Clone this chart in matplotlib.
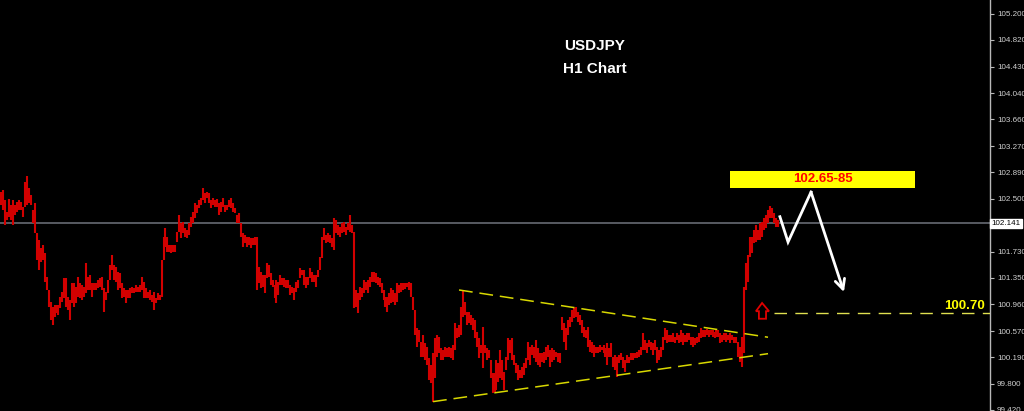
import matplotlib
matplotlib.use('Agg')
import matplotlib.pyplot as plt
import matplotlib.transforms as mtransforms
from matplotlib.patches import Rectangle, Polygon
import numpy as np

# ---------------- data (USDJPY H1 bars: high / low) ----------------
highs = [
    102.60, 102.63, 102.48, 102.31, 102.50, 102.41, 102.48, 102.41, 102.46, 102.48,
    102.46, 102.38, 102.75, 102.83, 102.66, 102.56, 102.34, 102.44, 102.00, 101.90,
    101.78, 101.83, 101.71, 101.36, 101.17, 100.99, 100.92, 100.95, 100.95, 100.95,
    101.07, 101.14, 101.35, 101.35, 101.07, 101.02, 101.27, 101.27, 101.21, 101.36,
    101.27, 101.24, 101.21, 101.56, 101.36, 101.39, 101.27, 101.27, 101.27, 101.32,
    101.35, 101.36, 101.20, 101.14, 101.32, 101.53, 101.68, 101.53, 101.51, 101.43,
    101.42, 101.27, 101.20, 101.17,
    101.17, 101.20, 101.21, 101.20, 101.24, 101.21,
    101.24, 101.36, 101.29, 101.20, 101.14, 101.17, 101.10, 101.14, 101.05, 101.13,
    101.10, 101.61, 101.94, 102.08, 101.94, 101.83, 101.83, 101.83, 101.83, 102.02,
    102.27, 102.15, 102.16, 102.08, 102.05, 102.15, 102.24, 102.31, 102.44, 102.41,
    102.48, 102.51, 102.66, 102.59, 102.60, 102.59, 102.48, 102.51, 102.48, 102.50,
    102.44, 102.46, 102.51, 102.41, 102.41, 102.48, 102.51, 102.44, 102.37, 102.27,
    102.29, 102.15, 102.00, 101.97, 101.94, 101.94, 101.93, 101.93, 101.94, 101.94,
    101.51, 101.43, 101.39, 101.39, 101.56, 101.53, 101.42, 101.32, 101.24, 101.32,
    101.29, 101.39, 101.35, 101.35, 101.32, 101.32, 101.24, 101.21, 101.20, 101.29,
    101.32, 101.49, 101.46, 101.46, 101.36, 101.36, 101.49, 101.43, 101.39, 101.39,
    101.46, 101.65, 101.94, 102.08, 101.97, 102.00, 101.97, 101.93, 102.22, 102.19,
    102.12, 102.09, 102.15, 102.16, 102.09, 102.15, 102.27, 102.12, 102.02, 101.17,
    101.13, 101.21, 101.20, 101.32, 101.29, 101.32, 101.36, 101.43, 101.43, 101.42,
    101.36, 101.35, 101.27, 101.17, 101.07,
    101.07, 101.13, 101.20, 101.17, 101.13,
    101.27, 101.24, 101.27, 101.27, 101.27, 101.27, 101.29, 101.27, 101.07, 100.88,
    100.62, 100.59, 100.41, 100.51, 100.40, 100.34, 100.18, 100.08, 100.25, 100.47,
    100.51, 100.48, 100.32, 100.29, 100.34, 100.32, 100.34, 100.32, 100.37, 100.69,
    100.62, 100.66, 100.92, 101.17, 100.99, 100.85, 100.85, 100.81, 100.76, 100.73,
    100.56, 100.47, 100.37, 100.63, 100.37, 100.32, 100.29, 100.15, 99.96, 99.96,
    100.15, 100.10, 100.29, 100.15, 99.97, 100.19, 100.47, 100.44, 100.47, 100.22,
    100.10, 100.08,
    100.00, 100.05, 100.10, 100.18, 100.41, 100.34, 100.37, 100.34,
    100.44, 100.32, 100.25, 100.25, 100.27, 100.34, 100.37, 100.29, 100.32, 100.29,
    100.27, 100.25, 100.25, 100.78, 100.69, 100.62, 100.73, 100.78, 100.88, 100.91,
    100.92, 100.85, 100.81, 100.73, 100.63, 100.59, 100.63, 100.44, 100.41, 100.37,
    100.34, 100.34, 100.37, 100.34, 100.37, 100.32, 100.40, 100.32, 100.40, 100.19,
    100.22, 100.19, 100.22, 100.25, 100.19, 100.15, 100.22, 100.19, 100.25, 100.25,
    100.25, 100.27, 100.29, 100.34, 100.54, 100.44, 100.40,
    100.44, 100.41, 100.40,
    100.44, 100.34, 100.29, 100.34, 100.48, 100.62, 100.59, 100.51, 100.51, 100.54,
    100.48, 100.54, 100.51, 100.59, 100.54, 100.51, 100.54, 100.54, 100.48, 100.48,
    100.47, 100.48, 100.54, 100.62, 100.59, 100.59, 100.60, 100.59, 100.59, 100.59,
    100.56, 100.59, 100.59, 100.54, 100.51, 100.54, 100.54, 100.51, 100.54, 100.51,
    100.48, 100.48, 100.41, 100.34, 100.48, 101.21, 101.56, 101.68, 101.94, 101.94,
    102.05, 102.12, 102.05, 102.15, 102.16, 102.22, 102.27, 102.34, 102.40, 102.37,
    102.29, 102.22, 102.19,
]

lows = [
    102.41, 102.34, 102.12, 102.19, 102.24, 102.19, 102.12, 102.27, 102.31, 102.34,
    102.34, 102.24, 102.38, 102.41, 102.44, 102.41, 102.15, 102.00, 101.61, 101.46,
    101.58, 101.61, 101.29, 101.17, 100.92, 100.73, 100.66, 100.78, 100.83, 100.81,
    100.91, 100.99, 101.05, 100.92, 100.88, 100.73, 100.98, 100.92, 100.98, 101.07,
    101.05, 101.02, 101.07, 101.13, 101.17, 101.17, 101.07, 101.17, 101.17, 101.20,
    101.21, 101.17, 100.85, 101.02, 101.13, 101.32, 101.46, 101.32, 101.29, 101.17,
    101.20, 101.05, 101.07, 100.98,
    101.05, 101.05, 101.13, 101.13, 101.14, 101.14,
    101.14, 101.17, 101.05, 101.05, 101.05, 101.02, 100.99, 100.88, 100.98, 101.02,
    101.02, 101.07, 101.61, 101.80, 101.73, 101.73, 101.71, 101.73, 101.73, 101.87,
    102.02, 101.93, 102.00, 101.94, 101.93, 101.97, 102.09, 102.15, 102.22, 102.29,
    102.37, 102.41, 102.48, 102.44, 102.51, 102.44, 102.37, 102.41, 102.38, 102.38,
    102.27, 102.31, 102.38, 102.31, 102.34, 102.38, 102.37, 102.31, 102.29, 102.15,
    102.15, 101.94, 101.80, 101.86, 101.80, 101.83, 101.78, 101.83, 101.83, 101.17,
    101.27, 101.20, 101.21, 101.13, 101.35, 101.36, 101.24, 101.21, 101.05, 100.98,
    101.10, 101.24, 101.24, 101.21, 101.20, 101.20, 101.10, 101.13, 101.02, 101.14,
    101.20, 101.35, 101.39, 101.24, 101.20, 101.24, 101.35, 101.29, 101.29, 101.21,
    101.36, 101.46, 101.64, 101.90, 101.86, 101.87, 101.86, 101.80, 101.75, 102.00,
    101.97, 101.94, 102.00, 102.02, 101.97, 102.05, 102.02, 102.00, 100.91, 100.92,
    100.83, 101.02, 101.07, 101.13, 101.17, 101.13, 101.21, 101.29, 101.29, 101.27,
    101.24, 101.21, 101.13, 101.02, 100.92,
    100.85, 100.95, 100.98, 100.99, 100.95,
    100.99, 101.13, 101.14, 101.17, 101.18, 101.21, 101.17, 101.07, 100.88, 100.51,
    100.34, 100.41, 100.19, 100.19, 100.15, 100.08, 99.86, 99.81, 99.54, 99.89,
    100.19, 100.25, 100.15, 100.15, 100.19, 100.19, 100.19, 100.18, 100.15, 100.29,
    100.47, 100.48, 100.51, 100.78, 100.81, 100.66, 100.69, 100.66, 100.59, 100.47,
    100.34, 100.18, 100.25, 100.03, 100.25, 100.15, 100.18, 99.89, 99.67, 99.68,
    99.71, 99.83, 99.89, 99.86, 99.71, 100.00, 100.15, 100.25, 100.15, 100.08,
    99.96, 99.86,
    99.89, 99.89, 99.93, 100.03, 100.15, 100.08, 100.22, 100.18,
    100.12, 100.08, 100.05, 100.12, 100.10, 100.15, 100.19, 100.05, 100.12, 100.15,
    100.19, 100.12, 100.10, 100.59, 100.41, 100.29, 100.51, 100.63, 100.70, 100.76,
    100.78, 100.70, 100.66, 100.54, 100.48, 100.47, 100.34, 100.27, 100.25, 100.19,
    100.25, 100.25, 100.27, 100.29, 100.25, 100.19, 100.08, 100.19, 100.19, 100.05,
    100.00, 99.90, 100.10, 100.15, 100.03, 99.97, 100.10, 100.10, 100.15, 100.15,
    100.18, 100.18, 100.19, 100.22, 100.29, 100.29, 100.25,
    100.34, 100.29, 100.22,
    100.29, 100.10, 100.15, 100.19, 100.29, 100.44, 100.40, 100.41, 100.41, 100.41,
    100.40, 100.44, 100.40, 100.41, 100.37, 100.41, 100.41, 100.44, 100.37, 100.34,
    100.37, 100.40, 100.41, 100.47, 100.48, 100.48, 100.51, 100.48, 100.51, 100.48,
    100.47, 100.48, 100.48, 100.40, 100.41, 100.44, 100.41, 100.44, 100.40, 100.44,
    100.40, 100.40, 100.19, 100.12, 100.05, 100.25, 101.17, 101.29, 101.65, 101.71,
    101.86, 101.87, 101.90, 101.90, 101.94, 102.05, 102.08, 102.15, 102.22, 102.22,
    102.15, 102.09, 102.09,
]

price_ticks = [105.200, 104.820, 104.430, 104.040, 103.660, 103.270, 102.890,
               102.500, 101.730, 101.350, 100.960, 100.570, 100.190, 99.800, 99.420]
current_price = 102.141
title_lines = ["USDJPY", "H1 Chart"]
target_zone = (102.66, 102.91)          # yellow box (price range)
target_bars = (367.8, 461.2)            # yellow box (bar range)
target_label = "102.65-85"
support_level = 100.83
support_label = "100.70"
upper_trend_x = [231.1, 387.0]
upper_trend_y = [101.17, 100.48]
lower_trend_x = [218.0, 387.0]
lower_trend_y = [99.54, 100.24]
path_x = [393.0, 397.1, 408.7, 425.3]
path_y = [102.24, 101.87, 102.60, 101.14]
uparrow_x = [384.0, 387.5, 386.0, 386.0, 382.4, 382.4, 380.9]
uparrow_y = [100.98, 100.86, 100.86, 100.75, 100.75, 100.86, 100.86]

# ---------------- figure ----------------
n = min(len(highs), len(lows))
bar_idx = np.arange(n)

fig = plt.figure(figsize=(10.24, 4.11), dpi=100, facecolor='black')
ax = fig.add_axes([0, 0, 990 / 1024, 1])
ax.set_facecolor('black')
ax.set_xlim(-0.5, 499)
ax.set_ylim(99.403, 105.404)

# current price line
ax.axhline(current_price, color='#70747c', linewidth=1.1, zorder=1)

# bars
ax.vlines(bar_idx, lows[:n], highs[:n], colors='#d20000', linewidth=1.5, zorder=2)

# triangle trendlines
for tx, ty in [(upper_trend_x, upper_trend_y), (lower_trend_x, lower_trend_y)]:
    ax.plot(tx, ty, color='#d8d800', linewidth=1.1, dashes=(9, 4.5), zorder=3)

# support dashed line
ax.plot([390, 499], [support_level, support_level], color='#e0e050',
        linewidth=1.0, dashes=(9, 6), zorder=3)
ax.text(496.5, support_level + 0.015, support_label, color='#ffff00',
        fontsize=9.5, fontweight='bold', ha='right', va='bottom',
        family='Liberation Sans', zorder=4)

# target zone box
ax.add_patch(Rectangle((target_bars[0], target_zone[0]),
                       target_bars[1] - target_bars[0],
                       target_zone[1] - target_zone[0],
                       facecolor='#ffff00', edgecolor='none', zorder=4))
ax.text((target_bars[0] + target_bars[1]) / 2, sum(target_zone) / 2, target_label,
        color='#ff0000', fontsize=9.5, fontweight='bold', ha='center', va='center',
        family='Liberation Sans', zorder=5)

# projected path (white)
ax.plot(path_x[:3], path_y[:3], color='white', linewidth=2.0,
        solid_joinstyle='miter', zorder=5)
ax.annotate('', xy=(path_x[3], path_y[3]), xytext=(path_x[2], path_y[2]),
            arrowprops=dict(arrowstyle='->,head_length=0.7,head_width=0.35',
                            color='white', lw=2.0, shrinkA=0, shrinkB=0),
            zorder=5)

# red hollow up arrow
ax.add_patch(Polygon(list(zip(uparrow_x, uparrow_y)), closed=True,
                     facecolor='none', edgecolor='#e00000', linewidth=1.3, zorder=5))

# title
ax.text(0.601, 0.888, title_lines[0], transform=ax.transAxes, color='white',
        fontsize=11, fontweight='bold', ha='center', va='center',
        family='Liberation Sans')
ax.text(0.601, 0.832, title_lines[1], transform=ax.transAxes, color='white',
        fontsize=11, fontweight='bold', ha='center', va='center',
        family='Liberation Sans')

# axes styling
for s in ['top', 'left', 'bottom']:
    ax.spines[s].set_visible(False)
ax.spines['right'].set_color('#b8b8b8')
ax.spines['right'].set_linewidth(1.0)
ax.set_xticks([])
ax.yaxis.tick_right()
ax.set_yticks(price_ticks)
ax.set_yticklabels([f"{t:.3f}" for t in price_ticks], family='Liberation Sans')
ax.tick_params(axis='y', colors='#b8b8b8', labelcolor='#d0d0d0', labelsize=5.8,
               length=3, width=0.8, pad=2, direction='out')

# current price label on axis
trans = mtransforms.blended_transform_factory(ax.transAxes, ax.transData)
ax.text(1.0015, current_price, f"{current_price:.3f}", transform=trans,
        color='black', fontsize=5.8, ha='left', va='center', family='Liberation Sans',
        bbox=dict(facecolor='white', edgecolor='white', pad=1.0), clip_on=False, zorder=6)

fig.savefig('out.png', dpi=100, facecolor='black')
